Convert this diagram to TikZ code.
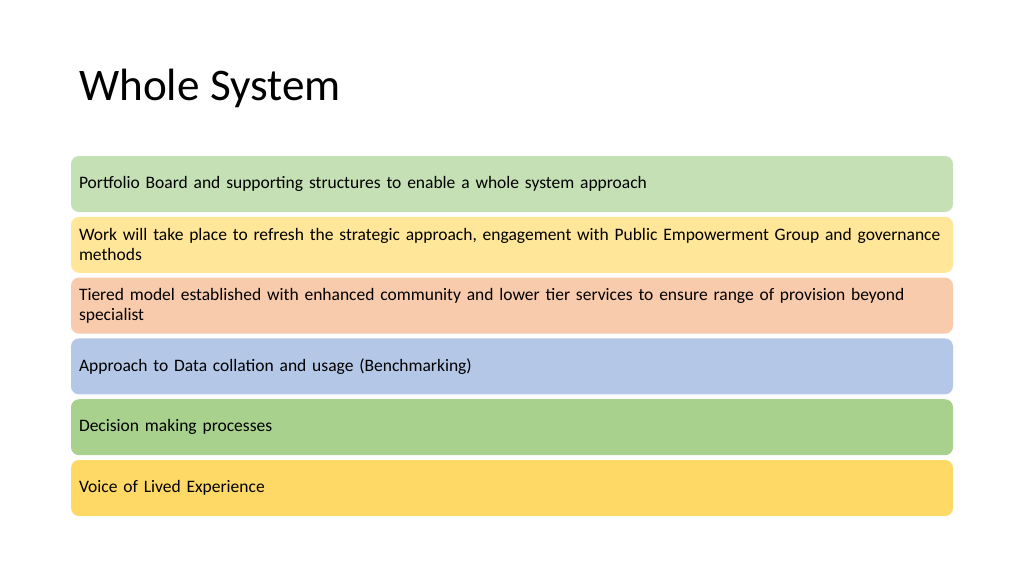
\documentclass[tikz,border=0pt]{standalone}
\usepackage{fontspec}
\setmainfont{Carlito}
\usetikzlibrary{positioning}
\definecolor{boardgreen}{HTML}{C5E0B4}
\definecolor{workyellow}{HTML}{FFE699}
\definecolor{tierpeach}{HTML}{F8CBAD}
\definecolor{datablue}{HTML}{B4C7E7}
\definecolor{decisiongreen}{HTML}{A9D18E}
\definecolor{voiceyellow}{HTML}{FFD966}
\begin{document}
\begin{tikzpicture}[x=1pt, y=1pt,
	band/.style = {rectangle, rounded corners=8pt, minimum width=882pt, minimum height=56pt,
		outer sep=0pt, inner xsep=8pt, inner ysep=4pt, text width=866pt, align=left,
		font=\fontsize{17.5}{20}\selectfont},
	node distance = 4.8pt]
\useasboundingbox (0 ,0) rectangle (1024 ,-576);
\node [anchor=base west, inner sep=0pt, font=\fontsize{45.2}{50}\selectfont] (title) at (79 ,-100) {Whole System};

\node [band, fill=boardgreen, anchor=north west] (board) at (71 ,-156) {Portfolio Board and supporting structures to enable a whole system approach};
\node [band, fill=workyellow, below=of board] (work) {Work will take place to refresh the strategic approach, engagement with Public Empowerment Group and governance\\ methods};
\node [band, fill=tierpeach, below=of work] (tier) {Tiered model established with enhanced community and lower tier services to ensure range of provision beyond\\ specialist};
\node [band, fill=datablue, below=of tier] (data) {Approach to Data collation and usage (Benchmarking)};
\node [band, fill=decisiongreen, below=of data] (decision) {Decision making processes};
\node [band, fill=voiceyellow, below=of decision] (voice) {Voice of Lived Experience};
\end{tikzpicture}
\end{document}
